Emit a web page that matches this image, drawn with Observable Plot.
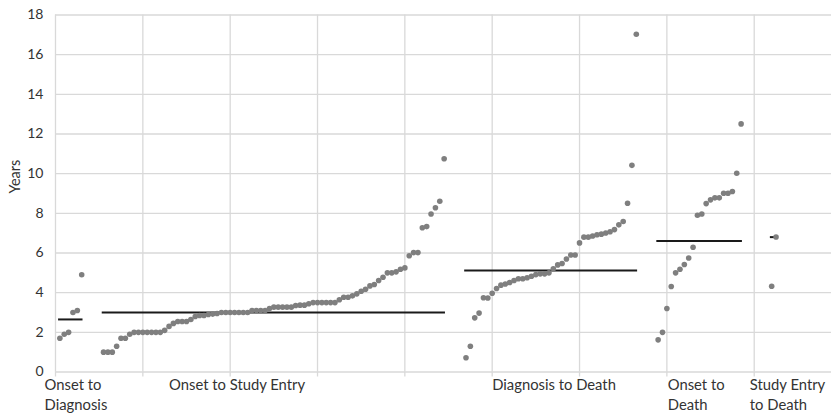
<!DOCTYPE html>
<html>
<head>
<meta charset="utf-8">
<script src="https://cdn.jsdelivr.net/npm/d3@7"></script>
<script src="https://cdn.jsdelivr.net/npm/@observablehq/plot@0.6"></script>
<style>
  html, body { margin: 0; padding: 0; background: #fff; }
  #chart svg { display: block; font-family: Lato, "Open Sans", sans-serif; }
</style>
</head>
<body>
<div id="chart"></div>
<script>
// Category labels (x-axis group labels)
const groupNames = ["Onset to\nDiagnosis", "Onset to Study Entry", "Diagnosis to Death", "Onset to\nDeath", "Study Entry\nto Death"];

// Series values (years), one array per group, sorted as in the chart
const onsetToDiagnosis = [1.7, 1.9, 2.0, 3.0, 3.1, 4.9];
const onsetToStudyEntry = [
  1.0, 1.0, 1.0, 1.3, 1.7, 1.7, 1.9, 2.0, 2.0, 2.0,
  2.0, 2.0, 2.0, 2.0, 2.1, 2.3, 2.45, 2.55, 2.55, 2.55,
  2.65, 2.8, 2.85, 2.85, 2.9, 2.92, 2.95, 3.0, 3.0, 3.0,
  3.0, 3.0, 3.0, 3.0, 3.1, 3.1, 3.1, 3.1, 3.2, 3.27,
  3.27, 3.27, 3.27, 3.27, 3.35, 3.37, 3.37, 3.44, 3.5, 3.5,
  3.5, 3.5, 3.5, 3.5, 3.64, 3.77, 3.77, 3.84, 3.94, 4.07,
  4.17, 4.34, 4.41, 4.61, 4.78, 5.0, 5.0, 5.05, 5.18, 5.25,
  5.86, 6.02, 6.02, 7.27, 7.33, 7.97, 8.28, 8.61, 10.75
];
const diagnosisToDeath = [
  0.72, 1.3, 2.73, 2.97, 3.74, 3.73, 3.97, 4.21, 4.38, 4.44,
  4.51, 4.61, 4.7, 4.7, 4.75, 4.83, 4.91, 4.95, 4.95, 5.0,
  5.2, 5.4, 5.47, 5.7, 5.9, 5.9, 6.51, 6.8, 6.8, 6.86,
  6.92, 6.95, 7.01, 7.07, 7.18, 7.42, 7.59, 8.51, 10.42, 17.03
];
const onsetToDeath = [
  1.62, 2.0, 3.2, 4.31, 5.0, 5.18, 5.42, 5.75, 6.29, 7.9,
  7.97, 8.49, 8.68, 8.78, 8.78, 9.01, 9.01, 9.1, 10.02, 12.51
];
const studyEntryToDeath = [4.32, 6.81];

// Group summary (horizontal bar) values
const groupMeans = [2.65, 3.0, 5.12, 6.61, 6.8];

// Case index at which each group starts along the x axis
const groupStarts = [1, 11, 94, 138, 164];

// Tick labels
const yTicks = [0, 2, 4, 6, 8, 10, 12, 14, 16, 18];
const xTicks = [0, 20, 40, 60, 80, 100, 120, 140, 160];
const yTitle = "Years";

// ---- build tables from the arrays ----
const series = [onsetToDiagnosis, onsetToStudyEntry, diagnosisToDeath, onsetToDeath, studyEntryToDeath];
const points = series.flatMap((vals, g) => vals.map((v, i) => ({group: g, x: groupStarts[g] + i, y: v})));
const meanRows = series.map((vals, g) => ({
  group: g,
  y: groupMeans[g],
  x1: groupStarts[g] - 0.3,
  x2: groupStarts[g] + vals.length - 1 + 0.3
}));
// label anchors (left edge of each group label, in x units)
const labelAt = [-2.5, 26, 100, 140.2, 159];
const labelRows = groupNames.map((t, i) => ({text: t, x: labelAt[i]}));

const grid = "#d9d9d9";
const ink = "#333333";

const chart = Plot.plot({
  width: 831,
  height: 413,
  marginLeft: 55,
  marginRight: 0,
  marginTop: 14.5,
  marginBottom: 41.5,
  style: {background: "#fff", fontFamily: "Lato, 'Open Sans', sans-serif"},
  x: {domain: [0, 177.7], axis: null},
  y: {domain: [0, 18], axis: null},
  marks: [
    Plot.gridY(yTicks, {stroke: grid, strokeOpacity: 1, strokeWidth: 1.3}),
    Plot.gridX(xTicks, {stroke: grid, strokeOpacity: 1, strokeWidth: 1.3}),
    Plot.axisX({ticks: xTicks, tickSize: 5, tickFormat: () => "", stroke: grid, strokeWidth: 1.3, label: null}),
    Plot.axisY({ticks: yTicks, tickSize: 0, tickPadding: 12, fontSize: 14, fill: ink, label: null}),
    Plot.text([yTitle], {frameAnchor: "left", rotate: -90, dx: -40, fontSize: 14.5, fill: ink}),
    Plot.ruleY(meanRows, {y: "y", x1: "x1", x2: "x2", stroke: "#1a1a1a", strokeWidth: 2}),
    Plot.dot(points, {x: "x", y: "y", r: 2.8, fill: "#7f7f7f", stroke: "none"}),
    Plot.text(labelRows, {x: "x", y: () => 0, text: "text", textAnchor: "start", lineAnchor: "top", dy: 4, fontSize: 14.8, lineHeight: 1.33, fill: ink})
  ]
});
document.getElementById("chart").appendChild(chart);
</script>
</body>
</html>
